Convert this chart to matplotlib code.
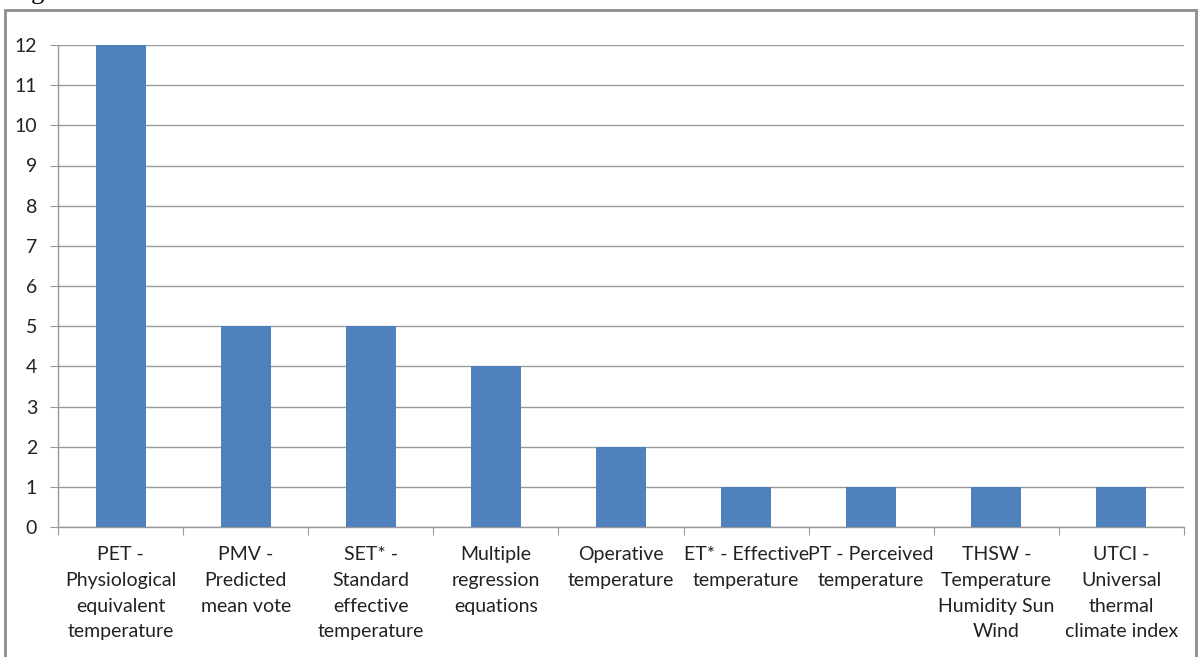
import matplotlib.pyplot as plt
import matplotlib.patches as patches

# данные
categories = [
    "PET -\nPhysiological\nequivalent\ntemperature",
    "PMV -\nPredicted\nmean vote",
    "SET* -\nStandard\neffective\ntemperature",
    "Multiple\nregression\nequations",
    "Operative\ntemperature",
    "ET* - Effective\ntemperature",
    "PT - Perceived\ntemperature",
    "THSW -\nTemperature\nHumidity Sun\nWind",
    "UTCI -\nUniversal\nthermal\nclimate index",
]
counts = [12, 5, 5, 4, 2, 1, 1, 1, 1]
yticks = list(range(0, 13))

plt.rcParams['font.family'] = ['Lato', 'DejaVu Sans']

fig = plt.figure(figsize=(12, 6.57), dpi=100)
ax = fig.add_axes([58 / 1200, 1 - 527 / 657, (1184 - 58) / 1200, (527 - 45) / 657])

x = list(range(len(categories)))
ax.bar(x, counts, width=0.4, color='#4F81BD', zorder=3)

ax.set_xlim(-0.5, len(categories) - 0.5)
ax.set_ylim(0, 12)
ax.set_yticks(yticks)
ax.set_yticklabels([str(v) for v in yticks], fontsize=14, color='#222222')

# сетка
ax.grid(axis='y', color='#999999', linewidth=1, zorder=0)
ax.set_axisbelow(True)

# подписи категорий - по центру, тики на границах
ax.set_xticks([i + 0.5 for i in range(-1, len(categories))], minor=False)
ax.set_xticklabels([])
ax.set_xticks(x, minor=True)
ax.set_xticklabels(categories, minor=True, fontsize=14, color='#222222',
                   linespacing=1.62, va='top')
ax.tick_params(axis='x', which='minor', length=0, pad=14)
ax.tick_params(axis='x', which='major', length=6, color='#999999', direction='out')
ax.tick_params(axis='y', length=6, color='#999999', pad=9)

for s in ['top', 'right']:
    ax.spines[s].set_visible(False)
for s in ['left', 'bottom']:
    ax.spines[s].set_color('#999999')
    ax.spines[s].set_linewidth(1)

# рамка диаграммы
frame = patches.Rectangle((5 / 1200, -0.1), (1196 - 5) / 1200, 1.1 - 10 / 657,
                          transform=fig.transFigure, fill=False,
                          edgecolor='#8c8c8c', linewidth=2, clip_on=False)
fig.patches.append(frame)

# обрезанная подпись сверху (в оригинале видна только нижняя часть)
fig.text(9 / 1200, 1 + 1 / 657, "Fig", family='Liberation Serif', fontsize=19,
         va='baseline', ha='left', color='black')

fig.savefig('out.png', dpi=100)
